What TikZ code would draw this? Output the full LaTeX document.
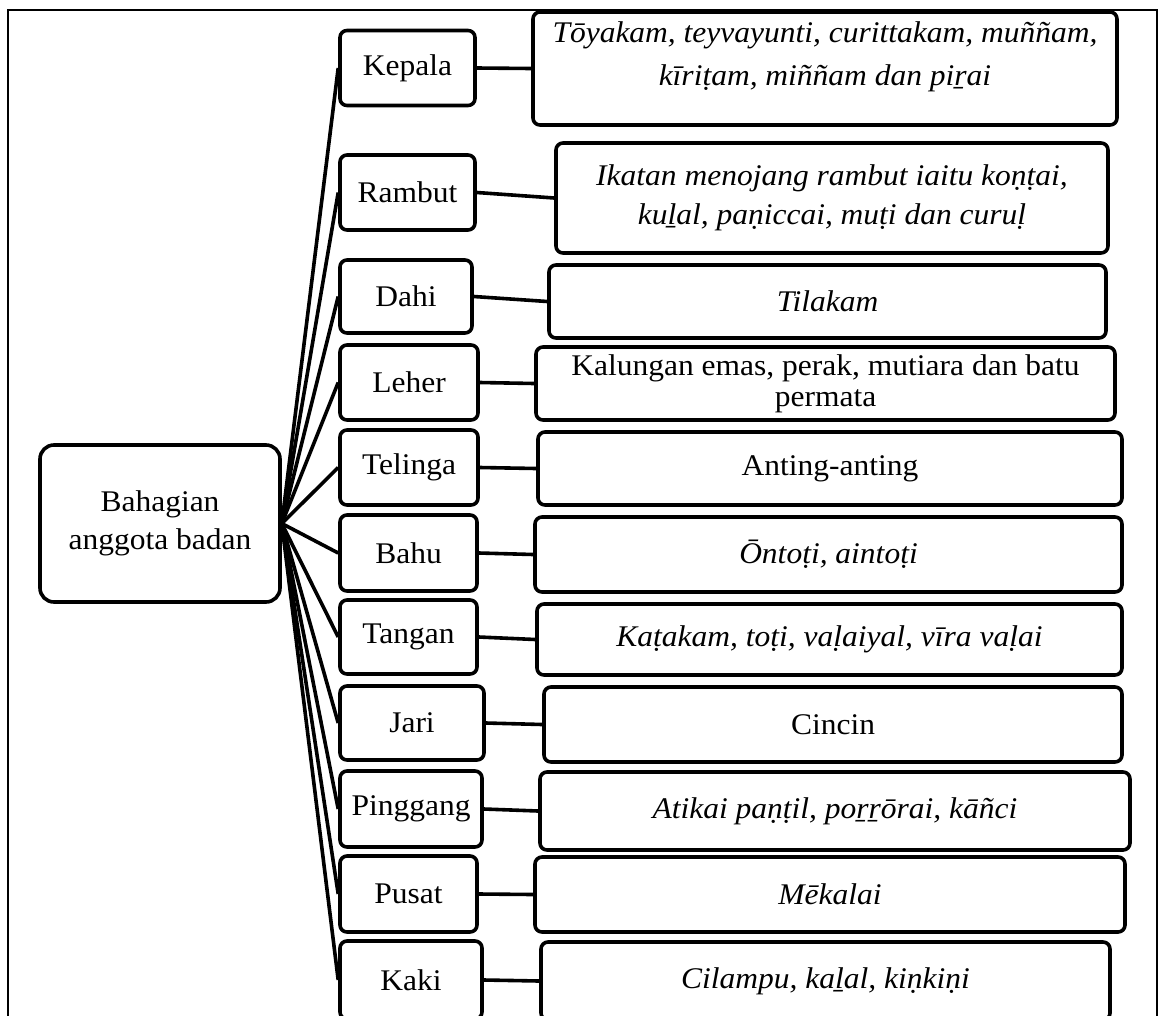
\documentclass[tikz,border=0pt]{standalone}
\usepackage{fontspec}
\setmainfont{Liberation Serif}[FakeStretch=1.05]
\begin{document}
\begin{tikzpicture}[x=1pt,y=1pt,
  box/.style={draw, line width=3.6pt, rounded corners=7pt, fill=white, inner sep=0pt, align=center, font=\fontsize{30}{33}\selectfont},
  itbox/.style={box, font=\fontsize{30}{33}\selectfont\itshape},
  sz/.style 2 args={minimum width=#1pt, minimum height=#2pt},
  link/.style={line width=3.6pt},
  txt/.style={inner sep=0pt, align=center, font=\fontsize{30}{43}\selectfont\itshape},
  frame/.style={line width=2pt}]
\useasboundingbox (0,0) rectangle (1162,-1015);
\clip (0,0) rectangle (1162,-1015);
\draw[frame] (8,-1030) -- (8,-10) -- (1157,-10) -- (1157,-1030);

% centre
\node[box, sz={240}{157}, rounded corners=14pt, font=\fontsize{30}{38}\selectfont] (C) at (160,-523.5) {Bahagian\\anggota badan};

% body parts
\node[box, sz={135}{75}] (kepala) at (407.5,-68) {Kepala};
\node[box, sz={135}{75}] (rambut) at (407.5,-192.5) {Rambut};
\node[box, sz={132}{73}] (dahi) at (406,-296.5) {Dahi};
\node[box, sz={138}{75}] (leher) at (409,-382.5) {Leher};
\node[box, sz={138}{75}] (telinga) at (409,-467.5) {Telinga};
\node[box, sz={137}{76}] (bahu) at (408.5,-553) {Bahu};
\node[box, sz={137}{74}] (tangan) at (408.5,-637) {Tangan};
\node[box, sz={144}{74}] (jari) at (412,-723) {Jari};
\node[box, sz={142}{76}] (pinggang) at (411,-809) {Pinggang};
\node[box, sz={137}{76}] (pusat) at (408.5,-894) {Pusat};
\node[box, sz={142}{78}] (kaki) at (411,-980) {Kaki};

% ornaments
\node[box, sz={584}{113}] (kepalaD) at (825,-68.5) {};
\node[txt] (kepalaT) at (825,-57) {Tōyakam, teyvayunti, curittakam, muññam,\\kīriṭam, miññam dan piṟai};
\node[itbox, sz={552}{110}, font=\fontsize{30}{39}\selectfont\itshape] (rambutD) at (832,-198) {Ikatan menojang rambut iaitu koṇṭai,\\kuḻal, paṇiccai, muṭi dan curuḷ};
\node[itbox, sz={557}{73}] (dahiD) at (827.5,-301.5) {Tilakam};
\node[box, sz={579}{73}, font=\fontsize{30}{31}\selectfont] (leherD) at (825.5,-383.5) {Kalungan emas, perak, mutiara dan batu\\permata};
\node[box, sz={584}{73}] (telingaD) at (830,-468.5) {Anting-anting};
\node[itbox, sz={587}{75}] (bahuD) at (828.5,-554.5) {Ōntoṭi, aintoṭi};
\node[itbox, sz={585}{71}] (tanganD) at (829.5,-639.5) {Kaṭakam, toṭi, vaḷaiyal, vīra vaḷai};
\node[box, sz={578}{75}] (jariD) at (833,-724.5) {Cincin};
\node[itbox, sz={590}{78}] (pinggangD) at (835,-811) {Atikai paṇṭil, poṟṟōrai, kāñci};
\node[itbox, sz={590}{75}] (pusatD) at (830,-894.5) {Mēkalai};
\node[itbox, sz={569}{78}] (kakiD) at (825.5,-981) {Cilampu, kaḻal, kiṇkiṇi};

\foreach \n in {kepala,rambut,dahi,leher,telinga,bahu,tangan,jari,pinggang,pusat,kaki}{
  \draw[link] (C.east) -- (\n.west);
  \draw[link] (\n.east) -- (\n D.west);
}
\end{tikzpicture}
\end{document}
